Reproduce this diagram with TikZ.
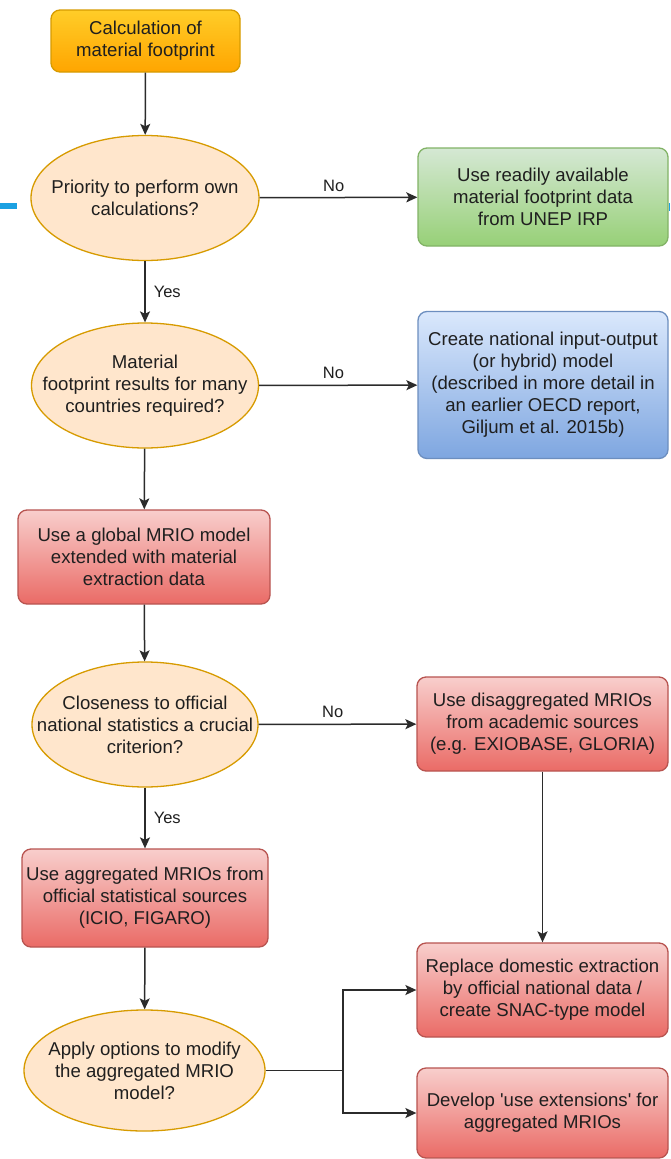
\documentclass[tikz,border=0pt]{standalone}
\usepackage{fontspec}
\setmainfont{Liberation Sans}[Ligatures=TeXOff]
\usetikzlibrary{shapes.geometric,arrows.meta}
\definecolor{txtc}{HTML}{1F1F1F}
\definecolor{linec}{HTML}{2B2B2B}
\definecolor{oTop}{HTML}{FFCD28}\definecolor{oBot}{HTML}{FFA500}\definecolor{oBrd}{HTML}{D79B00}
\definecolor{gTop}{HTML}{D5E8D4}\definecolor{gBot}{HTML}{97D077}\definecolor{gBrd}{HTML}{82B366}
\definecolor{bTop}{HTML}{DAE8FC}\definecolor{bBot}{HTML}{7EA6E0}\definecolor{bBrd}{HTML}{6C8EBF}
\definecolor{rTop}{HTML}{F8CECC}\definecolor{rBot}{HTML}{EA6B66}\definecolor{rBrd}{HTML}{B85450}
\definecolor{decFill}{HTML}{FFE6CC}
\definecolor{stubc}{HTML}{1BA1E2}
\tikzset{
  x=1pt, y=1pt,
  fnt/.style={font=\fontsize{18.6}{22}\selectfont, text=txtc, align=center},
  boxbase/.style={rectangle, rounded corners=9pt, inner sep=0pt, line width=1.3pt, fnt},
  orangebox/.style={boxbase, draw=oBrd, top color=oTop, bottom color=oBot},
  greenbox/.style={boxbase, draw=gBrd, top color=gTop, bottom color=gBot},
  bluebox/.style={boxbase, draw=bBrd, top color=bTop, bottom color=bBot},
  redbox/.style={boxbase, draw=rBrd, top color=rTop, bottom color=rBot},
  dec/.style={ellipse, draw=oBrd, fill=decFill, line width=1.3pt, inner sep=0pt},
  txt/.style={fnt, inner sep=0pt},
  lbl/.style={font=\fontsize{16.5}{20}\selectfont, text=txtc, inner sep=0pt},
  arr/.style={draw=linec, line width=1.5pt, -{Stealth[length=11pt, width=10pt, inset=2.5pt]}},
}
\begin{document}
\begin{tikzpicture}
\useasboundingbox (0,0) rectangle (670,-1159);
\fill[white] (0,0) rectangle (670,-1159);
% small blue stubs at the edges
\fill[stubc] (0,-203) rectangle (17,-209);
\fill[stubc] (668.5,-203) rectangle (670,-211);

% nodes
\node[orangebox, minimum width=189pt, minimum height=62pt] (start) at (145.5,-41) {Calculation of\\material footprint};

\node[dec, minimum width=228pt, minimum height=125pt] (e1) at (145,-198) {};
\node[txt] (t1) at (e1) {Priority to perform own\\calculations?};

\node[greenbox, minimum width=250pt, minimum height=98pt] (green) at (543,-197) {Use readily available\\material footprint data\\from UNEP IRP};

\node[dec, minimum width=227pt, minimum height=125pt] (e2) at (145,-385.5) {};
\node[txt] (t2) at (e2) {Material\\footprint results for many\\countries required?};

\node[bluebox, minimum width=250pt, minimum height=147pt] (blue) at (543,-385) {Create national input-output\\(or hybrid) model\\(described in more detail in\\an earlier OECD report,\\Giljum et al. 2015b)};

\node[redbox, minimum width=252pt, minimum height=94pt] (mrio) at (144,-557) {Use a global MRIO model\\extended with material\\extraction data};

\node[dec, minimum width=226pt, minimum height=125pt] (e3) at (145,-724.5) {};
\node[txt] (t3) at (e3) {Closeness to official\\national statistics a crucial\\criterion?};

\node[redbox, minimum width=251pt, minimum height=94pt] (disagg) at (542.5,-724) {Use disaggregated MRIOs\\from academic sources\\(e.g. EXIOBASE, GLORIA)};

\node[redbox, minimum width=246pt, minimum height=98pt] (agg) at (145,-898) {Use aggregated MRIOs from\\official statistical sources\\(ICIO, FIGARO)};

\node[dec, minimum width=241pt, minimum height=121pt] (e4) at (144.5,-1070.5) {};
\node[txt] (t4) at (e4) {Apply options to modify\\the aggregated MRIO\\model?};

\node[redbox, minimum width=251pt, minimum height=94pt] (replace) at (542.5,-990) {Replace domestic extraction\\by official national data /\\create SNAC-type model};

\node[redbox, minimum width=251pt, minimum height=90pt] (develop) at (542.5,-1113) {Develop 'use extensions' for\\aggregated MRIOs};

\coordinate (j) at (343,-1070.5);

% connectors
\draw[arr] (start) -- (e1);
\draw[arr] (e1) -- node[lbl, pos=0.47, above=5pt] {No} (green);
\draw[arr] (e1) -- node[lbl, right=8pt, pos=0.5] {Yes} (e2);
\draw[arr] (e2) -- node[lbl, pos=0.47, above=6pt] {No} (blue);
\draw[arr] (e2) -- (mrio);
\draw[arr] (mrio) -- (e3);
\draw[arr] (e3) -- node[lbl, pos=0.47, above=6pt] {No} (disagg);
\draw[arr] (e3) -- node[lbl, right=8pt, pos=0.5] {Yes} (agg);
\draw[arr] (disagg) -- (replace);
\draw[arr] (agg) -- (e4);
\draw[arr] (e4.east) -- (j) |- (replace.west);
\draw[arr] (e4.east) -- (j) |- (develop.west);
\end{tikzpicture}
\end{document}
